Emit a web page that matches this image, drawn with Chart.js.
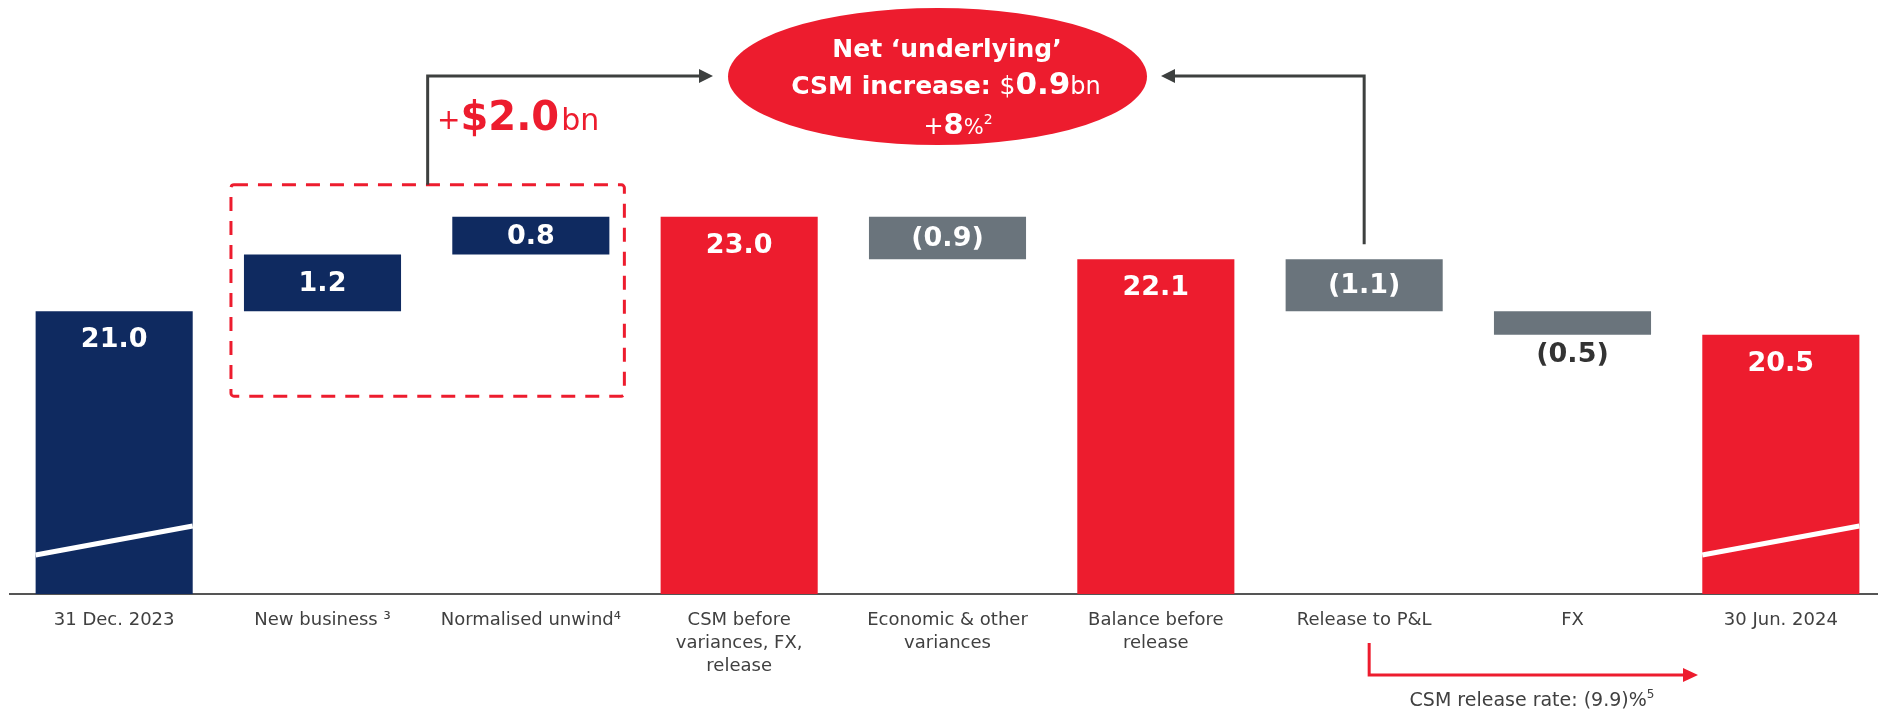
<!DOCTYPE html>
<html>
<head>
<meta charset="utf-8">
<script src="https://cdn.jsdelivr.net/npm/chart.js@4"></script>
<style>
  html, body { margin: 0; padding: 0; background: #fff; overflow: hidden; }
  #wrap { width: 1885px; height: 712px; }
</style>
</head>
<body>
<div id="wrap"><canvas id="csm"></canvas></div>
<script>
// CSM walk, $bn
const categories = [
  '31 Dec. 2023',
  'New business \u00b3',
  'Normalised unwind\u2074',
  ['CSM before', 'variances, FX,', 'release'],
  ['Economic & other', 'variances'],
  ['Balance before', 'release'],
  'Release to P&L',
  'FX',
  '30 Jun. 2024'
];
const values = [21.0, 1.2, 0.8, 23.0, -0.9, 22.1, -1.1, -0.5, 20.5];
const isTotal = [true, false, false, true, false, true, false, false, true];
const yMin = 15;
const yMax = 27.6;

const navy = '#0F2A60';
const red = '#ED1C2E';
const grey = '#6A747C';
const ink = '#3D403F';
const FONT = '"DejaVu Sans", Verdana, sans-serif';

// floating bars: totals stand on zero, movements hang from the running total
let running = 0;
const ranges = values.map((v, i) => {
  if (isTotal[i]) { running = v; return [0, v]; }
  const start = running;
  running += v;
  return [Math.min(start, running), Math.max(start, running)];
});
const colors = values.map((v, i) => i < 3 ? navy : (isTotal[i] ? red : grey));

const fmt = v => v < 0 ? '(' + Math.abs(v).toFixed(1) + ')' : v.toFixed(1);

function drawRuns(ctx, runs, cx, baseline) {
  let total = 0;
  runs.forEach(r => { ctx.font = r.font; r.w = ctx.measureText(r.text).width; total += r.w; });
  let x = cx - total / 2;
  ctx.textAlign = 'left';
  ctx.textBaseline = 'alphabetic';
  runs.forEach(r => { ctx.font = r.font; ctx.fillText(r.text, x, baseline - (r.rise || 0)); x += r.w; });
}

function arrowHead(ctx, x, y, dir, len, half) {
  ctx.beginPath();
  ctx.moveTo(x, y);
  ctx.lineTo(x - dir * len, y - half);
  ctx.lineTo(x - dir * len, y + half);
  ctx.closePath();
  ctx.fill();
}

const barLabels = {
  id: 'barLabels',
  afterDatasetsDraw(chart) {
    const ctx = chart.ctx;
    const axisY = chart.chartArea.bottom;
    const bars = chart.getDatasetMeta(0).data;
    ctx.save();
    // axis break marks on the two balance bars
    [0, 8].forEach(i => {
      const b = bars[i];
      ctx.strokeStyle = '#fff';
      ctx.lineWidth = 5;
      ctx.beginPath();
      ctx.moveTo(b.x - b.width / 2, axisY - 39);
      ctx.lineTo(b.x + b.width / 2, axisY - 68);
      ctx.stroke();
    });
    ctx.font = 'bold 27px ' + FONT;
    ctx.textAlign = 'center';
    ctx.textBaseline = 'middle';
    bars.forEach((b, i) => {
      const top = Math.min(b.y, b.base);
      const bottom = Math.max(b.y, b.base);
      let y, color = '#fff';
      if (isTotal[i]) y = top + 29;
      else if (bottom - top < 30) { y = bottom + 20; color = '#333'; }
      else y = (top + bottom) / 2 + 1;
      ctx.fillStyle = color;
      ctx.fillText(fmt(values[i]), b.x, y);
    });
    ctx.restore();
  }
};

const annotations = {
  id: 'annotations',
  afterDraw(chart) {
    const ctx = chart.ctx;
    const bars = chart.getDatasetMeta(0).data;
    const nb = bars[1], nu = bars[2], rel = bars[6];
    ctx.save();

    // dashed frame round new business and unwind
    const boxL = nb.x - nb.width / 2 - 13;
    const boxR = nu.x + nu.width / 2 + 15;
    const boxT = Math.min(nu.y, nu.base) - 32;
    const boxB = Math.max(nb.y, nb.base) + 85;
    ctx.strokeStyle = red;
    ctx.lineWidth = 3;
    ctx.setLineDash([14, 10]);
    ctx.beginPath();
    ctx.roundRect(boxL, boxT, boxR - boxL, boxB - boxT, 3);
    ctx.stroke();
    ctx.setLineDash([]);

    // ellipse callout
    const cx = 937.5, cy = 76.5;
    ctx.fillStyle = red;
    ctx.beginPath();
    ctx.ellipse(cx, cy, 209.5, 68.5, 0, 0, Math.PI * 2);
    ctx.fill();

    // connectors into the callout
    const arrowY = 76;
    ctx.strokeStyle = ink;
    ctx.fillStyle = ink;
    ctx.lineWidth = 3;
    const lx = (boxL + boxR) / 2;
    ctx.beginPath();
    ctx.moveTo(lx, boxT);
    ctx.lineTo(lx, arrowY);
    ctx.lineTo(700, arrowY);
    ctx.stroke();
    arrowHead(ctx, 713, arrowY, 1, 14, 7);

    const rx = rel.x;
    ctx.beginPath();
    ctx.moveTo(rx, Math.min(rel.y, rel.base) - 15);
    ctx.lineTo(rx, arrowY);
    ctx.lineTo(1174, arrowY);
    ctx.stroke();
    arrowHead(ctx, 1161, arrowY, -1, 14, 7);

    // callout text
    ctx.fillStyle = '#fff';
    drawRuns(ctx, [{ text: 'Net \u2018underlying\u2019', font: 'bold 25px ' + FONT }], 947, 57);
    drawRuns(ctx, [
      { text: 'CSM increase: ', font: 'bold 25px ' + FONT },
      { text: '$', font: '25px ' + FONT },
      { text: '0.9', font: 'bold 31px ' + FONT },
      { text: 'bn', font: '24px ' + FONT }
    ], 946, 94);
    drawRuns(ctx, [
      { text: '+', font: '24px ' + FONT },
      { text: '8', font: 'bold 29px ' + FONT },
      { text: '%', font: '21px ' + FONT },
      { text: '2', font: '14px ' + FONT, rise: 10 }
    ], 958, 134);

    // new business + unwind total
    ctx.fillStyle = red;
    ctx.font = '28px ' + FONT;
    const plusW = ctx.measureText('+').width;
    ctx.textAlign = 'left';
    ctx.fillText('+', 437, 129);
    ctx.font = 'bold 40px ' + FONT;
    ctx.fillText('$2.0', 437 + plusW, 130);
    const amtW = ctx.measureText('$2.0').width;
    ctx.font = '30px ' + FONT;
    ctx.fillText('bn', 437 + plusW + amtW + 2, 130);

    // release rate pointer
    const px = rel.x + 5;
    ctx.strokeStyle = red;
    ctx.fillStyle = red;
    ctx.lineWidth = 3;
    ctx.beginPath();
    ctx.moveTo(px, 643);
    ctx.lineTo(px, 675);
    ctx.lineTo(1686, 675);
    ctx.stroke();
    arrowHead(ctx, 1698, 675, 1, 15, 7);

    ctx.fillStyle = '#404040';
    drawRuns(ctx, [
      { text: 'CSM release rate: (9.9)%', font: '19px ' + FONT },
      { text: '5', font: '12px ' + FONT, rise: 8 }
    ], 1532, 706);

    ctx.restore();
  }
};

new Chart(document.getElementById('csm'), {
  type: 'bar',
  data: {
    labels: categories,
    datasets: [{
      data: ranges,
      backgroundColor: colors,
      borderWidth: 0,
      barPercentage: 0.754,
      categoryPercentage: 1,
      clip: 0
    }]
  },
  options: {
    responsive: true,
    maintainAspectRatio: false,
    animation: false,
    layout: { padding: { left: 10, right: 0, top: 0, bottom: 0 } },
    plugins: { legend: { display: false }, tooltip: { enabled: false } },
    scales: {
      x: {
        grid: { display: false, drawTicks: false },
        border: { display: true, color: '#555', width: 2 },
        ticks: {
          color: '#404040',
          font: { family: FONT, size: 18, lineHeight: 1.28 },
          padding: 15,
          autoSkip: false,
          maxRotation: 0
        },
        afterFit(scale) { scale.height = 118; }
      },
      y: { display: false, min: yMin, max: yMax }
    }
  },
  plugins: [barLabels, annotations]
});
</script>
</body>
</html>
